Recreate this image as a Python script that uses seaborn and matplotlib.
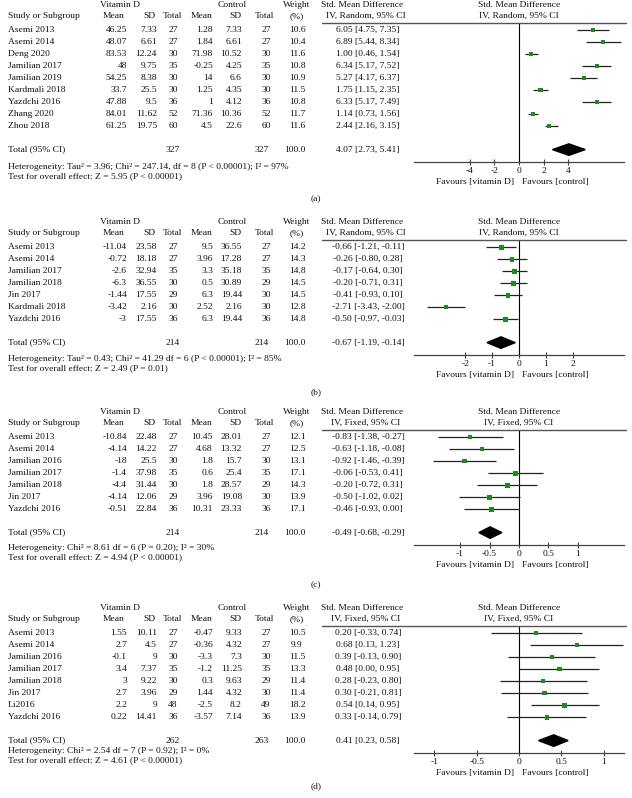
import numpy as np
import pandas as pd
import seaborn as sns
import matplotlib.pyplot as plt
from matplotlib.lines import Line2D

# figure size in pixels
W, H = 632, 798

# ---- panel (a) ----
a_study = ["Asemi 2013", "Asemi 2014", "Deng 2020", "Jamilian 2017", "Jamilian 2019",
           "Kardmali 2018", "Yazdchi 2016", "Zhang 2020", "Zhou 2018"]
a_vd_mean = [46.25, 48.07, 83.53, 48, 54.25, 33.7, 47.88, 84.01, 61.25]
a_vd_sd = [7.33, 6.61, 12.24, 9.75, 8.38, 25.5, 9.5, 11.62, 19.75]
a_vd_n = [27, 27, 30, 35, 30, 30, 36, 52, 60]
a_ct_mean = [1.28, 1.84, 71.98, -0.25, 14, 1.25, 1, 71.36, 4.5]
a_ct_sd = [7.33, 6.61, 10.52, 4.25, 6.6, 4.35, 4.12, 10.36, 22.6]
a_ct_n = [27, 27, 30, 35, 30, 30, 36, 52, 60]
a_weight = [10.6, 10.4, 11.6, 10.8, 10.9, 11.5, 10.8, 11.7, 11.6]
a_smd = [6.05, 6.89, 1.00, 6.34, 5.27, 1.75, 6.33, 1.14, 2.44]
a_lo = [4.75, 5.44, 0.46, 5.17, 4.17, 1.15, 5.17, 0.73, 2.16]
a_hi = [7.35, 8.34, 1.54, 7.52, 6.37, 2.35, 7.49, 1.56, 3.15]
a_pooled = [4.07, 2.73, 5.41]
a_totals = [327, 327]
a_het = "Heterogeneity: Tau² = 3.96; Chi² = 247.14, df = 8 (P < 0.00001); I² = 97%"
a_test = "Test for overall effect: Z = 5.95 (P < 0.00001)"
a_ticks = [-4, -2, 0, 2, 4]

# ---- panel (b) ----
b_study = ["Asemi 2013", "Asemi 2014", "Jamilian 2017", "Jamilian 2018", "Jin 2017",
           "Kardmali 2018", "Yazdchi 2016"]
b_vd_mean = [-11.04, -0.72, -2.6, -6.3, -1.44, -3.42, -3]
b_vd_sd = [23.58, 18.18, 32.94, 36.55, 17.55, 2.16, 17.55]
b_vd_n = [27, 27, 35, 30, 29, 30, 36]
b_ct_mean = [9.5, 3.96, 3.3, 0.5, 6.3, 2.52, 6.3]
b_ct_sd = [36.55, 17.28, 35.18, 30.89, 19.44, 2.16, 19.44]
b_ct_n = [27, 27, 35, 29, 30, 30, 36]
b_weight = [14.2, 14.3, 14.8, 14.5, 14.5, 12.8, 14.8]
b_smd = [-0.66, -0.26, -0.17, -0.20, -0.41, -2.71, -0.50]
b_lo = [-1.21, -0.80, -0.64, -0.71, -0.93, -3.43, -0.97]
b_hi = [-0.11, 0.28, 0.30, 0.31, 0.10, -2.00, -0.03]
b_pooled = [-0.67, -1.19, -0.14]
b_totals = [214, 214]
b_het = "Heterogeneity: Tau² = 0.43; Chi² = 41.29 df = 6 (P < 0.00001); I² = 85%"
b_test = "Test for overall effect: Z = 2.49 (P = 0.01)"
b_ticks = [-2, -1, 0, 1, 2]

# ---- panel (c) ----
c_study = ["Asemi 2013", "Asemi 2014", "Jamilian 2016", "Jamilian 2017", "Jamilian 2018",
           "Jin 2017", "Yazdchi 2016"]
c_vd_mean = [-10.84, -4.14, -18, -1.4, -4.4, -4.14, -0.51]
c_vd_sd = [22.48, 14.22, 25.5, 37.98, 31.44, 12.06, 22.84]
c_vd_n = [27, 27, 30, 35, 30, 29, 36]
c_ct_mean = [10.45, 4.68, 1.8, 0.6, 1.8, 3.96, 10.31]
c_ct_sd = [28.01, 13.32, 15.7, 25.4, 28.57, 19.08, 23.33]
c_ct_n = [27, 27, 30, 35, 29, 30, 36]
c_weight = [12.1, 12.5, 13.1, 17.1, 14.3, 13.9, 17.1]
c_smd = [-0.83, -0.63, -0.92, -0.06, -0.20, -0.50, -0.46]
c_lo = [-1.38, -1.18, -1.46, -0.53, -0.72, -1.02, -0.93]
c_hi = [-0.27, -0.08, -0.39, 0.41, 0.31, 0.02, 0.00]
c_pooled = [-0.49, -0.68, -0.29]
c_totals = [214, 214]
c_het = "Heterogeneity: Chi² = 8.61 df = 6 (P = 0.20); I² = 30%"
c_test = "Test for overall effect: Z = 4.94 (P < 0.00001)"
c_ticks = [-1, -0.5, 0, 0.5, 1]

# ---- panel (d) ----
d_study = ["Asemi 2013", "Asemi 2014", "Jamilian 2016", "Jamilian 2017", "Jamilian 2018",
           "Jin 2017", "Li2016", "Yazdchi 2016"]
d_vd_mean = [1.55, 2.7, -0.1, 3.4, 3, 2.7, 2.2, 0.22]
d_vd_sd = [10.11, 4.5, 9, 7.37, 9.22, 3.96, 9, 14.41]
d_vd_n = [27, 27, 30, 35, 30, 29, 48, 36]
d_ct_mean = [-0.47, -0.36, -3.3, -1.2, 0.3, 1.44, -2.5, -3.57]
d_ct_sd = [9.33, 4.32, 7.3, 11.25, 9.63, 4.32, 8.2, 7.14]
d_ct_n = [27, 27, 30, 35, 29, 30, 49, 36]
d_weight = [10.5, 9.9, 11.5, 13.3, 11.4, 11.4, 18.2, 13.9]
d_smd = [0.20, 0.68, 0.39, 0.48, 0.28, 0.30, 0.54, 0.33]
d_lo = [-0.33, 0.13, -0.13, 0.00, -0.23, -0.21, 0.14, -0.14]
d_hi = [0.74, 1.23, 0.90, 0.95, 0.80, 0.81, 0.95, 0.79]
d_pooled = [0.41, 0.23, 0.58]
d_totals = [262, 263]
d_het = "Heterogeneity: Chi² = 2.54 df = 7 (P = 0.92); I² = 0%"
d_test = "Test for overall effect: Z = 4.61 (P < 0.00001)"
d_ticks = [-1, -0.5, 0, 0.5, 1]

sns.set_theme(style="white")
plt.rcParams['font.family'] = ['Liberation Serif', 'DejaVu Serif']
plt.rcParams['axes.unicode_minus'] = False

FS = 6.8
GREEN = '#1f8a1f'
ROW = 12  # row spacing in px

fig = plt.figure(figsize=(W / 100, H / 100), dpi=100)


def txt(x, y, s, ha='left', **kw):
    # x, y in pixels from top-left
    fig.text(x / W, 1 - y / H, s, ha=ha, va='center', fontsize=FS, color='#111', **kw)


def panel(study, vd_mean, vd_sd, vd_n, ct_mean, ct_sd, ct_n, weight, smd, lo, hi,
          pooled, totals, het, test, ticks, model, line_y, xmax, het_dy, letter, letter_y):
    n = len(study)

    # column headers
    txt(120, line_y - 18, "Vitamin D", ha='center')
    txt(232, line_y - 18, "Control", ha='center')
    txt(297, line_y - 18, "Weight", ha='center')
    txt(362, line_y - 18, "Std. Mean Difference", ha='center')
    txt(519, line_y - 18, "Std. Mean Difference", ha='center')
    txt(8, line_y - 7, "Study or Subgroup")
    txt(114, line_y - 7, "Mean", ha='center')
    txt(149, line_y - 7, "SD", ha='center')
    txt(172, line_y - 7, "Total", ha='center')
    txt(202, line_y - 7, "Mean", ha='center')
    txt(235, line_y - 7, "SD", ha='center')
    txt(264, line_y - 7, "Total", ha='center')
    txt(297, line_y - 7, "(%)", ha='center')
    txt(366, line_y - 7, "IV, " + model + ", 95% CI", ha='center')
    txt(519, line_y - 7, "IV, " + model + ", 95% CI", ha='center')
    fig.add_artist(Line2D([322 / W, 626 / W], [1 - line_y / H] * 2,
                          transform=fig.transFigure, color='#555', lw=1))

    # study rows
    for i in range(n):
        y = line_y + ROW * (0.6 + i)
        txt(8, y, study[i])
        txt(127, y, '{:g}'.format(vd_mean[i]), ha='right')
        txt(157, y, '{:g}'.format(vd_sd[i]), ha='right')
        txt(173, y, str(vd_n[i]), ha='center')
        txt(213, y, '{:g}'.format(ct_mean[i]), ha='right')
        txt(242, y, '{:g}'.format(ct_sd[i]), ha='right')
        txt(266, y, str(ct_n[i]), ha='center')
        txt(297, y, '{:.1f}'.format(weight[i]), ha='center')
        txt(368, y, '{:.2f} [{:.2f}, {:.2f}]'.format(smd[i], lo[i], hi[i]), ha='center')

    # total row
    ty = line_y + ROW * (0.6 + n + 0.95)
    txt(8, ty, "Total (95% CI)")
    txt(173, ty, str(totals[0]), ha='center')
    txt(262, ty, str(totals[1]), ha='center')
    txt(295, ty, "100.0", ha='center')
    txt(368, ty, '{:.2f} [{:.2f}, {:.2f}]'.format(*pooled), ha='center')
    txt(8, ty + het_dy, het)
    txt(8, ty + het_dy + 10, test)
    txt(316, letter_y, letter, ha='center')

    # forest plot
    axis_y = line_y + ROW * (n + 2.55)
    ax = fig.add_axes([414 / W, 1 - axis_y / H, 210 / W, (axis_y - line_y) / H])
    df = pd.DataFrame({'smd': smd, 'lo': lo, 'hi': hi, 'weight': weight, 'row': np.arange(n)})
    ax.hlines(df['row'], df['lo'], df['hi'], color='#222', lw=0.9, zorder=2)
    sns.scatterplot(data=df, x='smd', y='row', size='weight', sizes=(0, 16), size_norm=(0, 20),
                    marker='s', color=GREEN, linewidth=0, legend=False, ax=ax, zorder=3)
    yd = n + 0.95
    ax.fill([pooled[1], pooled[0], pooled[2], pooled[0]], [yd, yd - 0.48, yd, yd + 0.48],
            color='black', zorder=3)
    ax.axvline(0, color='black', lw=0.8, zorder=1)
    ax.set_xlim(-xmax, xmax)
    ax.set_ylim(n + 1.95, -0.6)
    ax.set_facecolor('none')
    for s in ['top', 'left', 'right']:
        ax.spines[s].set_visible(False)
    ax.spines['bottom'].set_color('#444')
    ax.spines['bottom'].set_linewidth(0.9)
    ax.set_yticks([])
    ax.set_xticks(ticks)
    ax.set_xticklabels(['{:g}'.format(t) for t in ticks])
    ax.tick_params(axis='x', direction='inout', length=4, width=0.8, color='#444',
                   labelsize=FS, pad=2, bottom=True, labelcolor='#111')
    ax.set_xlabel('')
    ax.set_ylabel('')
    txt(514, axis_y + 20, "Favours [vitamin D]", ha='right')
    txt(522, axis_y + 20, "Favours [control]")


panel(a_study, a_vd_mean, a_vd_sd, a_vd_n, a_ct_mean, a_ct_sd, a_ct_n, a_weight, a_smd, a_lo, a_hi,
      a_pooled, a_totals, a_het, a_test, a_ticks, "Random", 23, 8.57, 17, "(a)", 199)
panel(b_study, b_vd_mean, b_vd_sd, b_vd_n, b_ct_mean, b_ct_sd, b_ct_n, b_weight, b_smd, b_lo, b_hi,
      b_pooled, b_totals, b_het, b_test, b_ticks, "Random", 240, 3.9, 16, "(b)", 392)
panel(c_study, c_vd_mean, c_vd_sd, c_vd_n, c_ct_mean, c_ct_sd, c_ct_n, c_weight, c_smd, c_lo, c_hi,
      c_pooled, c_totals, c_het, c_test, c_ticks, "Fixed", 430, 1.78, 15, "(c)", 585)
panel(d_study, d_vd_mean, d_vd_sd, d_vd_n, d_ct_mean, d_ct_sd, d_ct_n, d_weight, d_smd, d_lo, d_hi,
      d_pooled, d_totals, d_het, d_test, d_ticks, "Fixed", 626, 1.24, 10, "(d)", 786)

plt.savefig("out.png", dpi=100)
plt.close()
